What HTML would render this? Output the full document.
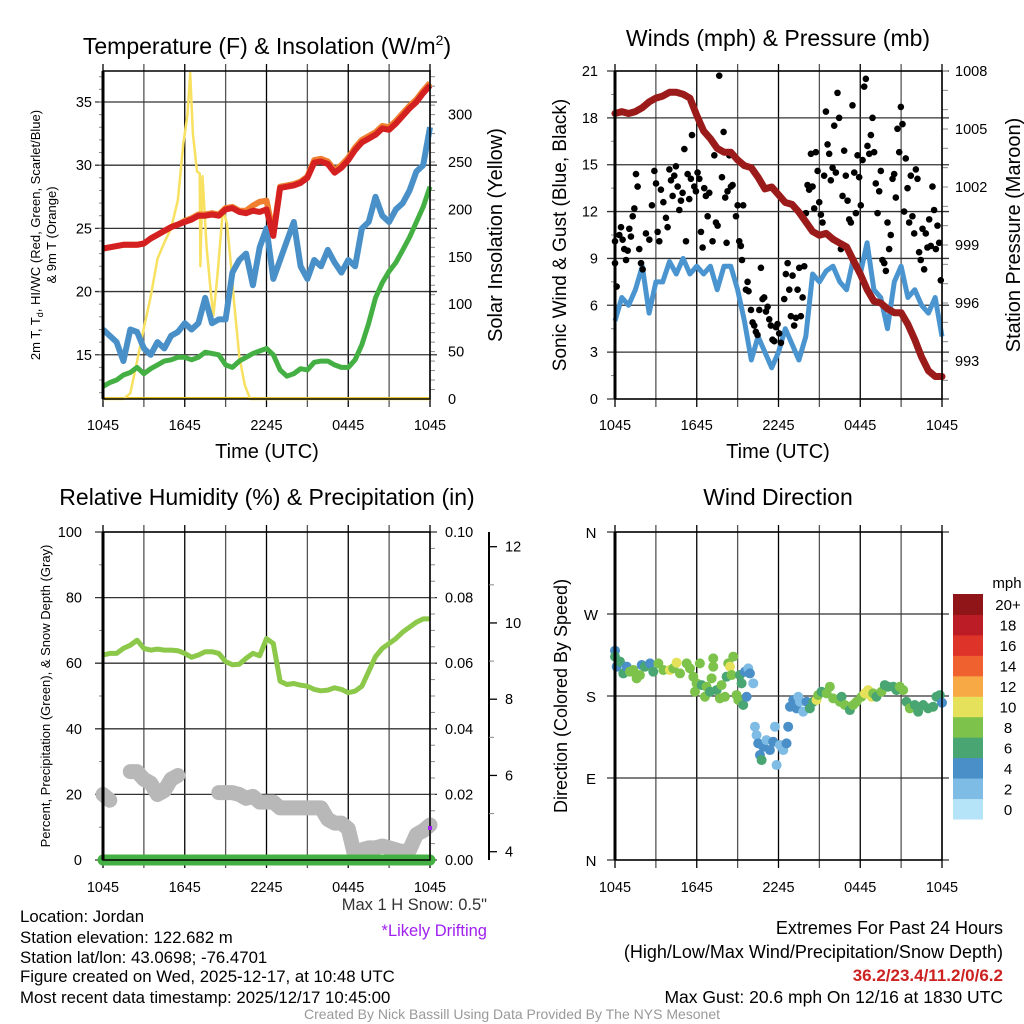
<!DOCTYPE html>
<html><head><meta charset="utf-8"><style>
body{margin:0;background:#fff;}
svg{display:block;font-family:"Liberation Sans",sans-serif;}
</style></head><body>
<svg id="fig" width="1024" height="1024" viewBox="0 0 1024 1024" xmlns="http://www.w3.org/2000/svg">
<rect width="1024" height="1024" fill="#fff"/>
<g id="g-tl"></g>
<g id="g-tr"></g>
<g id="g-bl"></g>
<g id="g-br"></g>
<text x="267" y="54" font-size="23" text-anchor="middle">Temperature (F) &amp; Insolation (W/m<tspan font-size="14" dy="-9">2</tspan><tspan dy="9">)</tspan></text>
<text x="778" y="46" font-size="23" text-anchor="middle">Winds (mph) &amp; Pressure (mb)</text>
<text x="267" y="505" font-size="23" text-anchor="middle">Relative Humidity (%) &amp; Precipitation (in)</text>
<text x="778" y="505" font-size="23" text-anchor="middle">Wind Direction</text>
<text x="267" y="458" font-size="20" text-anchor="middle">Time (UTC)</text>
<text x="778" y="458" font-size="20" text-anchor="middle">Time (UTC)</text>
<text transform="translate(40,235) rotate(-90)" font-size="13" text-anchor="middle">2m T, T<tspan font-size="9" dy="3">d</tspan><tspan dy="-3">, HI/WC (Red, Green, Scarlet/Blue)</tspan></text>
<text transform="translate(56,235) rotate(-90)" font-size="13" text-anchor="middle">&amp; 9m T (Orange)</text>
<text transform="translate(502,235) rotate(-90)" font-size="20" text-anchor="middle">Solar Insolation (Yellow)</text>
<text transform="translate(566,235) rotate(-90)" font-size="19" text-anchor="middle">Sonic Wind &amp; Gust (Blue, Black)</text>
<text transform="translate(1020,235) rotate(-90)" font-size="20" text-anchor="middle">Station Pressure (Maroon)</text>
<text transform="translate(50,696) rotate(-90)" font-size="13" text-anchor="middle">Percent, Precipitation (Green), &amp; Snow Depth (Gray)</text>
<text transform="translate(567,696) rotate(-90)" font-size="18" text-anchor="middle">Direction (Colored By Speed)</text>
<g font-size="16.8">
<text x="20" y="922">Location: Jordan</text>
<text x="20" y="943">Station elevation: 122.682 m</text>
<text x="20" y="963">Station lat/lon: 43.0698; -76.4701</text>
<text x="20" y="982">Figure created on Wed, 2025-12-17, at 10:48 UTC</text>
<text x="20" y="1003">Most recent data timestamp: 2025/12/17 10:45:00</text>
<text x="487" y="910" text-anchor="end" fill="#333" font-size="16.5">Max 1 H Snow: 0.5"</text>
<text x="487" y="936" text-anchor="end" fill="#a020f0" font-size="16.5">*Likely Drifting</text>
<text x="1003" y="934" text-anchor="end" font-size="18">Extremes For Past 24 Hours</text>
<text x="1003" y="958" text-anchor="end" font-size="18">(High/Low/Max Wind/Precipitation/Snow Depth)</text>
<text x="1003" y="981" text-anchor="end" fill="#cc2222" font-weight="bold" font-size="17">36.2/23.4/11.2/0/6.2</text>
<text x="1003" y="1003" text-anchor="end" font-size="17.5">Max Gust: 20.6 mph On 12/16 at 1830 UTC</text>
<text x="512" y="1019" text-anchor="middle" font-size="14" fill="#999">Created By Nick Bassill Using Data Provided By The NYS Mesonet</text>
</g>
</svg>
<script>
// ---------- DATA ----------
const xTickLabels = ["1045","1645","2245","0445","1045"];
// half-hour samples, hours 0..24
const tempRed = [23.4,23.5,23.6,23.7,23.7,23.7,23.8,24.2,24.5,24.8,25.1,25.3,25.5,25.7,26.0,26.0,26.1,26.0,26.5,26.6,26.3,26.2,26.4,26.3,26.5,24.4,28.2,28.3,28.4,28.6,29.0,30.2,30.3,30.1,29.4,29.8,30.4,31.2,31.8,32.1,32.4,32.9,32.8,33.3,33.9,34.5,35.0,35.7,36.3];
const temp9m = [23.4,23.5,23.6,23.7,23.7,23.7,23.8,24.2,24.5,24.8,25.1,25.3,25.6,25.8,26.1,26.1,26.2,26.1,26.6,26.7,26.4,26.4,26.8,27.1,27.2,24.6,28.3,28.4,28.5,28.7,29.1,30.4,30.5,30.3,29.6,30.0,30.6,31.4,32.0,32.3,32.6,33.1,33.0,33.5,34.1,34.7,35.2,35.9,36.5];
const windChill = [17,16.5,16,14.5,17,16.8,15.5,15,16,15.5,16.5,16.8,17.5,17,17.5,19.5,17.5,17.8,17.8,21.5,22.5,23,20.5,23.5,25,21,22.5,24,25.5,22,21,22.5,22,23.3,22.3,21.5,22.5,22,25,25.5,27.5,26,25.5,26.5,27,28,29.5,30,33];
const dewPoint = [12.5,12.8,13.0,13.4,13.6,14.0,13.5,13.9,14.2,14.5,14.6,14.8,14.8,14.6,14.8,15.2,15.1,15.0,14.2,14.0,14.5,14.8,15.1,15.3,15.5,15.0,13.8,13.3,13.5,13.9,13.8,14.4,14.5,14.5,14.2,14.0,14.0,14.6,15.8,17.5,19.5,20.7,21.6,22.3,23.3,24.3,25.5,26.7,28.3];
const solarTimes = [0,1.5,2.0,2.5,3.0,3.5,4.0,4.5,5.0,5.5,5.9,6.2,6.4,6.6,6.9,7.1,7.15,7.3,7.6,7.9,8.1,8.4,8.6,8.8,9.1,9.4,9.6,10.0,10.4,10.8,24];
const solarValues = [0,0,6,40,75,108,148,165,180,210,270,300,344,280,240,238,140,235,160,115,88,130,165,200,185,140,105,45,15,0,0];
const windSpeed = [5,6.5,6,7,8.5,5.5,7.5,7.5,8.8,8,9,8,8.5,8,8.5,7,8.5,8.5,7,5,2.5,4,3,2,3,4.5,3.5,2.5,4,8,7.5,8.2,8.5,7.5,7,9,8,10,7,6.5,4.5,7.5,8.5,6.5,7,6,5.5,6.5,4];
const pressure = [1005.8,1005.9,1005.8,1005.9,1006.1,1006.4,1006.6,1006.7,1006.9,1006.9,1006.8,1006.6,1005.7,1004.9,1004.5,1004.0,1003.8,1003.8,1003.4,1003.1,1003.0,1002.5,1001.9,1002.0,1001.6,1001.2,1001.1,1000.7,1000.2,999.7,999.5,999.6,999.3,999.1,998.9,998.2,997.5,996.7,996.1,996.0,995.7,995.5,995.5,994.9,994.1,993.2,992.5,992.2,992.2];
const gustTimes = [0,0,0.12,0.32,0.44,0.56,0.68,0.81,0.93,1.05,1.17,1.30,1.42,1.54,1.66,1.78,1.91,2.03,2.27,2.52,2.71,2.89,3.01,3.13,3.25,3.37,3.55,3.74,3.86,3.99,4.11,4.23,4.35,4.47,4.60,4.72,4.84,4.96,5.09,5.21,5.33,5.45,5.57,5.65,5.82,5.94,6.06,6.19,6.31,6.43,6.55,6.67,6.80,6.92,7.16,7.29,7.41,7.53,7.65,7.85,7.97,8.09,8.19,8.26,8.39,8.51,8.63,8.88,9.00,9.12,9.24,9.32,9.41,9.61,9.73,9.80,9.98,10.10,10.22,10.34,10.46,10.59,10.71,10.83,10.95,11.08,11.20,11.32,11.44,11.56,11.69,11.81,11.93,12.05,12.18,12.42,12.54,12.67,12.79,12.91,13.03,13.15,13.28,13.40,13.52,13.64,13.77,13.89,14.01,14.13,14.25,14.38,14.50,14.62,14.74,14.87,14.99,15.11,15.23,15.35,15.48,15.60,15.72,15.84,15.97,16.09,16.21,16.33,16.45,16.58,16.70,16.82,16.94,17.07,17.19,17.31,17.43,17.56,17.68,17.80,17.92,18.04,18.17,18.29,18.41,18.53,18.66,18.78,18.90,19.02,19.14,19.27,19.39,19.51,19.63,19.76,19.88,20.00,20.12,20.24,20.37,20.49,20.61,20.73,20.86,20.98,21.10,21.22,21.34,21.47,21.59,21.71,21.83,21.96,22.08,22.20,22.32,22.44,22.57,22.69,22.81,22.93,23.06,23.18,23.30,23.42,23.55,23.67,23.79,23.91];
const gustValues = [10.1,8.7,7.2,10.5,11,10.2,9.6,8.9,9.5,10.9,10.4,11.7,12.2,14.4,13.6,9.6,8.7,8.3,10.6,10.2,12.4,14.6,13.8,10.7,10.1,13.4,12.6,11.6,11,14.7,14,13,14.3,14.9,13.6,12.1,12.7,13.2,16,10.1,14.4,12.8,14.1,16.9,13.6,13.3,14.5,14.1,10.7,9.7,13.5,13,11.7,13.2,10.1,15.6,11.3,11.1,20.7,14.2,17.1,12.9,10,13.3,15.6,13.6,13.7,11.7,12.4,10.1,9.8,8.9,12.4,7,7.5,6.9,5.7,4.9,4.7,4.3,4.1,5.7,8.4,6.4,6.5,5.6,5.9,5.1,4.7,3.8,3.7,4.6,4.8,4.2,3.6,6.4,8,8.7,7,5.3,7.9,4.7,5.2,7,8.4,5.3,6.5,8.5,11.9,13.7,13.4,15.7,13.6,12.2,15.8,14.6,12.6,11.8,11.3,14.3,18.4,16.3,15.7,14,14.8,17.5,14.5,19.6,18,9.6,13,15.9,14.3,12.7,11.5,11.3,18.8,14.5,11.9,15.6,14.2,12.4,15.3,20,20.5,16.2,15.7,16.9,18,15.8,13.8,11.9,13.3,14.6,8.9,8.7,8.2,11.3,9.6,10.5,14.1,14.4,12.9,17.3,15.8,18.7,17.6,12,15.4,13.5,11.3,14.3,11.7,10.6,14.7,14.1,9.4,8.9,10.9,8.3,10.6,9.7,11.5,9.8,13.6,12.1,9.6,11.1,10,7.6];
const humidity = [62.5,63,63,64.5,65.5,67,64.5,64,64.3,64,64,63.8,63,61.8,62.5,63.5,63.5,63,60.5,59.5,59.7,61.5,63,62.3,67.5,66,54.5,53.5,53.8,53.3,53,52,51.6,51.8,52.5,52,51,51.5,53,57.5,62,64.5,66,67.5,69.5,71,72.5,73.5,73.5];
const precip = [0,0,0,0,0,0,0,0,0,0,0,0,0,0,0,0,0,0,0,0,0,0,0,0,0,0,0,0,0,0,0,0,0,0,0,0,0,0,0,0,0,0,0,0,0,0,0,0,0];
const snowDepth = [5.5,5.35,null,null,6.1,6.1,5.9,5.8,5.5,5.6,5.9,6.0,null,null,null,null,null,5.55,5.55,5.55,5.5,5.4,5.45,5.3,5.3,5.3,5.15,5.15,5.15,5.15,5.15,5.15,5.15,4.85,4.75,4.75,4.6,3.85,4.05,4.1,4.1,4.15,4.1,4.05,4.0,4.05,4.45,4.55,4.7];
const dirTimes = [0,0,0.12,0.37,0.61,0.86,1.10,1.35,1.59,1.83,1.96,2.20,2.57,2.81,3.18,3.55,4.03,4.28,4.52,4.77,5.26,5.50,5.75,5.87,5.99,6.23,6.36,6.60,6.72,6.97,7.09,7.21,7.21,7.46,7.70,7.82,8.07,8.19,8.31,8.44,8.56,8.68,8.92,9.05,9.17,9.29,9.41,9.54,9.66,9.78,9.90,10.15,10.27,10.39,10.51,10.64,10.76,10.88,11.12,11.37,11.61,11.74,11.86,12.10,12.35,12.59,12.71,12.84,13.08,13.32,13.45,13.57,13.81,14.06,14.30,14.55,14.79,14.91,15.16,15.53,15.77,16.01,16.50,16.63,16.87,17.24,17.48,17.73,18.09,18.34,18.58,18.83,18.95,19.19,19.56,19.80,20.05,20.42,20.66,20.90,21.15,21.39,21.64,22.00,22.25,22.62,22.98,23.35,23.59,23.84,24];
const dirDegrees = [229.7,223.2,212.2,217.7,204.8,212.2,206.7,208.5,199.4,203.0,214.0,212.2,215.8,206.7,215.8,208.5,208.5,210.3,216.6,204.8,215.8,210.3,201.2,184.7,193.9,215.8,192.0,179.2,190.2,184.7,199.4,212.2,221.3,186.5,177.4,192.0,179.2,201.2,215.8,212.2,203.0,223.2,181.0,175.6,203.0,193.9,170.1,206.7,179.2,210.3,204.8,193.9,146.3,137.1,128.0,115.2,109.7,124.3,131.6,120.7,129.8,146.3,104.2,126.2,120.7,128.0,146.3,168.2,175.6,166.4,179.2,173.7,162.8,173.7,166.4,173.7,175.6,181.0,184.7,182.9,190.2,177.4,173.7,179.2,170.1,164.6,170.1,173.7,179.2,182.9,186.5,179.2,182.9,179.2,184.7,192.0,190.2,190.2,186.5,190.2,186.5,173.7,166.4,170.1,162.8,170.1,166.4,168.2,179.2,181.0,172.6];
const dirSpeeds = [4,6,4,6,6,4,8,8,8,8,4,6,4,6,8,8,10,8,10,8,8,8,8,8,8,8,6,8,8,6,8,8,8,6,8,8,8,6,8,10,8,8,8,8,6,6,6,4,4,2,4,2,2,2,4,4,6,4,2,4,4,2,2,2,2,4,4,4,4,4,2,2,2,4,6,6,10,8,6,8,8,8,8,6,8,6,8,8,8,10,10,10,8,6,8,6,6,6,6,8,8,6,8,6,6,6,6,6,6,6,4];
const speedBins = ["0","2","4","6","8","10","12","14","16","18","20+"];
const speedColors = ["#b5e3f7","#7fbce5","#4a8fc7","#49a672","#7dc24a","#e6e15a","#f7a945","#ef6230","#de3329","#bb1c26","#8f1519"];

// ---------- HELPERS ----------
const NS="http://www.w3.org/2000/svg";
function mk(parent,tag,attrs){const e=document.createElementNS(NS,tag);for(const k in attrs)e.setAttribute(k,attrs[k]);parent.appendChild(e);return e;}
function lin(d0,d1,r0,r1){return v=>r0+(v-d0)*(r1-r0)/(d1-d0);}
function pathFrom(times,vals,xs,ys){let d="",pen=false;for(let i=0;i<vals.length;i++){const v=vals[i];if(v===null){pen=false;continue;}d+=(pen?"L":"M")+xs(times[i]).toFixed(1)+","+ys(v).toFixed(1);pen=true;}return d;}
const halfHours=[];for(let i=0;i<=48;i++)halfHours.push(i/2);

function frame(g,x0,x1,y0,y1,hTicks,xScale,labelY,withLabels){
  for(let h=0;h<=24;h+=3){const x=xScale(h);const l=mk(g,"line",{x1:x,x2:x,y1:y0-7,y2:y1+8,stroke:(h%6===0)?"#000":"#555","stroke-width":1.3});
    
    }
  for(const t of hTicks){const l=mk(g,"line",{x1:x0-8,x2:x1+7,y1:t,y2:t,stroke:"#333","stroke-width":1.3});
    
    }
  if(withLabels){for(let i=0;i<xTickLabels.length;i++){const t=mk(g,"text",{x:xScale(i*6),y:labelY,"font-size":14.5,"text-anchor":"middle"});t.textContent=xTickLabels[i];
    
    }}
}
function box(g,x0,x1,y0,y1){const r=mk(g,"rect",{x:x0,y:y0,width:x1-x0,height:y1-y0,fill:"none",stroke:"#000","stroke-width":1.5});
  
  
  const l=mk(g,"line",{x1:x0,x2:x0,y1:y0,y2:y1,stroke:"#000","stroke-width":3});
  
  }
function yLabels(g,vals,fmt,ys,x,anchor,name){for(const v of vals){const t=mk(g,"text",{x:x,y:ys(v)+5,"font-size":14.5,"text-anchor":anchor});t.textContent=fmt(v);
  
  }}
function minorTicks(g,x,from,to,step,ys,len){for(let v=from;v<=to+1e-9;v+=step){const y=ys(v);mk(g,"line",{x1:x,x2:x+len,y1:y,y2:y,stroke:"#888","stroke-width":1});}}

// ---------- TOP LEFT ----------
(function(){
  const g=document.getElementById("g-tl");
  const X0=103,X1=430,Y0=71,Y1=399;
  const xs=lin(0,24,X0,X1), ys=lin(11.5,37.45,Y1,Y0), ysR=lin(0,346,Y1,Y0);
  const ticks=[15,20,25,30,35];
  frame(g,X0,X1,Y0,Y1,ticks.map(ys),xs,430,true);
  minorTicks(g,X0-4,12,37,1,ys,4);
  minorTicks(g,X1,10,340,10,ysR,5);
  yLabels(g,ticks,v=>String(v),ys,92,"end","temp-y-tick-label");
  yLabels(g,[0,50,100,150,200,250,300],v=>String(v),ysR,448,"start","insolation-y-tick-label");
  mk(g,"line",{x1:X0,x2:X1,y1:Y1-1,y2:Y1-1,stroke:"#e0c020","stroke-width":2});
  const sol=mk(g,"path",{d:pathFrom(solarTimes,solarValues,xs,ysR),fill:"none",stroke:"#f8e060","stroke-width":2.5,"stroke-linejoin":"round"});
  
  
  const wc=mk(g,"path",{d:pathFrom(halfHours,windChill,xs,ys),fill:"none",stroke:"#4a90c8","stroke-width":6,"stroke-linejoin":"round"});
  
  
  const td=mk(g,"path",{d:pathFrom(halfHours,dewPoint,xs,ys),fill:"none",stroke:"#44b044","stroke-width":5,"stroke-linejoin":"round"});
  
  
  const o=mk(g,"path",{d:pathFrom(halfHours,temp9m,xs,ys),fill:"none",stroke:"#f08030","stroke-width":6,"stroke-linejoin":"round"});
  
  
  const r=mk(g,"path",{d:pathFrom(halfHours,tempRed,xs,ys),fill:"none",stroke:"#d42020","stroke-width":6,"stroke-linejoin":"round"});
  
  
  box(g,X0,X1,Y0,Y1);
})();

// ---------- TOP RIGHT ----------
(function(){
  const g=document.getElementById("g-tr");
  const X0=615,X1=942,Y0=71,Y1=399;
  const xs=lin(0,24,X0,X1), ys=lin(0,21,Y1,Y0), ysP=lin(1008,993,71,361);
  const ticks=[0,3,6,9,12,15,18,21];
  frame(g,X0,X1,Y0,Y1,ticks.map(ys),xs,430,true);
  minorTicks(g,X0-4,1.5,19.5,3,ys,4);
  minorTicks(g,X1,992,1008,1,ysP,6);
  yLabels(g,ticks,v=>String(v),ys,598,"end","wind-y-tick-label");
  yLabels(g,[993,996,999,1002,1005,1008],v=>String(v),ysP,955,"start","pressure-y-tick-label");
  const w=mk(g,"path",{d:pathFrom(halfHours,windSpeed,xs,ys),fill:"none",stroke:"#4a95d0","stroke-width":5,"stroke-linejoin":"round"});
  
  
  for(let i=0;i<gustTimes.length;i++){const c=mk(g,"circle",{cx:xs(gustTimes[i]),cy:ys(gustValues[i]),r:3.3,fill:"#000"});
    
    }
  const p=mk(g,"path",{d:pathFrom(halfHours,pressure,xs,ysP),fill:"none",stroke:"#9b1b1b","stroke-width":7,"stroke-linejoin":"round","stroke-linecap":"round"});
  
  
  box(g,X0,X1,Y0,Y1);
})();

// ---------- BOTTOM LEFT ----------
(function(){
  const g=document.getElementById("g-bl");
  const X0=103,X1=430,Y0=532,Y1=860;
  const xs=lin(0,24,X0,X1), ys=lin(0,100,Y1,Y0), ysPr=lin(0,0.1,Y1,Y0), ysS=lin(4,12,851.7,546.7);
  const ticks=[0,20,40,60,80,100];
  frame(g,X0,X1,Y0,Y1,ticks.map(ys),xs,892,true);
  minorTicks(g,X0-4,10,90,20,ys,4);
  minorTicks(g,X1,0.005,0.095,0.005,ysPr,5);
  yLabels(g,ticks,v=>String(v),ys,82,"end","humidity-y-tick-label");
  yLabels(g,[0,0.02,0.04,0.06,0.08,0.10],v=>v.toFixed(2),ysPr,445,"start","precip-y-tick-label");
  const sa=mk(g,"line",{x1:489,x2:489,y1:Y0,y2:Y1,stroke:"#000","stroke-width":2});
  
  
  for(let v=4;v<=12;v+=2){mk(g,"line",{x1:489,x2:497,y1:ysS(v),y2:ysS(v),stroke:"#000","stroke-width":1.3});}
  minorTicks(g,489,5,11,2,ysS,5);
  yLabels(g,[4,6,8,10,12],v=>String(v),ysS,505,"start","snow-y-tick-label");
  const s=mk(g,"path",{d:pathFrom(halfHours,snowDepth,xs,ysS),fill:"none",stroke:"#b8b8b8","stroke-width":15,"stroke-linejoin":"round","stroke-linecap":"round"});
  
  
  const h=mk(g,"path",{d:pathFrom(halfHours,humidity,xs,ys),fill:"none",stroke:"#8cc84a","stroke-width":5,"stroke-linejoin":"round"});
  
  
  const pr=mk(g,"path",{d:pathFrom(halfHours,precip,xs,ysPr),fill:"none",stroke:"#44b044","stroke-width":11,"stroke-linecap":"round"});
  
  
  box(g,X0,X1,Y0,Y1);
  const m=mk(g,"rect",{x:428,y:826,width:4,height:4,fill:"#a020f0"});
  
  
})();

// ---------- BOTTOM RIGHT ----------
(function(){
  const g=document.getElementById("g-br");
  const X0=615,X1=942,Y0=532,Y1=860;
  const xs=lin(0,24,X0,X1), ys=lin(0,360,Y1,Y0);
  const dirs=[0,90,180,270,360], names=["N","E","S","W","N"];
  frame(g,X0,X1,Y0,Y1,dirs.map(ys),xs,892,true);
  for(let i=0;i<dirs.length;i++){const t=mk(g,"text",{x:591,y:ys(dirs[i])+6,"font-size":15,"text-anchor":"middle"});t.textContent=names[i];
    
    }
  for(let i=0;i<dirTimes.length;i++){const bin=Math.min(10,Math.floor(dirSpeeds[i]/2));
    const c=mk(g,"circle",{cx:xs(dirTimes[i]),cy:ys(dirDegrees[i]),r:5,fill:speedColors[bin]});
    
    }
  box(g,X0,X1,Y0,Y1);
  const lg=mk(g,"g",{});
  
  
  const cy0=594,ch=225/11;
  for(let i=0;i<speedBins.length;i++){const yy=cy0+(10-i)*ch;
    mk(lg,"rect",{x:953,y:yy,width:30,height:ch+0.5,fill:speedColors[i]});
    const t=mk(lg,"text",{x:1008,y:yy+ch/2+6,"font-size":15,"text-anchor":"middle"});t.textContent=speedBins[i];
    
    }
  const u=mk(lg,"text",{x:1007,y:588,"font-size":15,"text-anchor":"middle"});u.textContent="mph";
})();
</script>
</body></html>
